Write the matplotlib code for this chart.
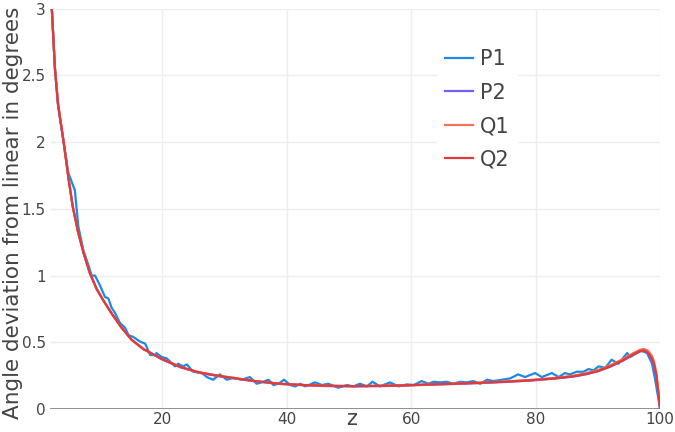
import numpy as np
import matplotlib.pyplot as plt

# courbes lisses (P2, Q1, Q2)
z_lisse = [2.0, 2.3, 2.8, 3.3, 4.2, 5.0, 5.65, 6.5, 7.4, 8.4, 9.5, 10.5, 12, 13.5,
           15.1, 17, 20, 23, 26, 29, 32, 35, 39, 43, 47, 51, 55, 59, 63, 67, 71,
           75, 79, 83, 86, 88, 90, 92, 94, 95.5, 96.8, 97.4, 98.0, 98.6, 99.0,
           99.4, 99.7, 100]
q2 = [3.45, 3.0, 2.55, 2.28, 2.0, 1.72, 1.52, 1.33, 1.17, 1.02, 0.9, 0.82, 0.71, 0.61,
      0.52, 0.45, 0.375, 0.315, 0.275, 0.25, 0.23, 0.21, 0.19, 0.18, 0.175, 0.172,
      0.175, 0.178, 0.185, 0.19, 0.197, 0.205, 0.215, 0.23, 0.245, 0.262, 0.285,
      0.32, 0.365, 0.405, 0.435, 0.44, 0.425, 0.385, 0.34, 0.25, 0.13, 0.0]
q1 = [3.45, 3.0, 2.56, 2.29, 2.0, 1.73, 1.52, 1.33, 1.17, 1.02, 0.9, 0.82, 0.71, 0.61,
      0.52, 0.45, 0.375, 0.315, 0.275, 0.25, 0.23, 0.21, 0.19, 0.18, 0.175, 0.172,
      0.175, 0.178, 0.185, 0.19, 0.198, 0.207, 0.218, 0.233, 0.25, 0.268, 0.292,
      0.328, 0.375, 0.415, 0.445, 0.45, 0.44, 0.405, 0.36, 0.27, 0.14, 0.0]
p2 = [3.45, 3.0, 2.55, 2.28, 2.0, 1.72, 1.52, 1.33, 1.17, 1.02, 0.9, 0.82, 0.71, 0.61,
      0.52, 0.45, 0.372, 0.312, 0.272, 0.247, 0.227, 0.207, 0.188, 0.178, 0.172, 0.17,
      0.172, 0.176, 0.183, 0.188, 0.195, 0.203, 0.213, 0.228, 0.243, 0.26, 0.283,
      0.318, 0.362, 0.402, 0.432, 0.437, 0.42, 0.375, 0.33, 0.24, 0.12, 0.0]

# P1 bruitée
z_p1 = [2.0, 2.3, 2.8, 3.3, 4.2, 4.95, 6.0, 6.55, 7.36, 8.16, 8.7, 9.24, 10.0, 10.84,
        11.37, 11.9, 12.45, 13.25, 14.06, 14.6, 15.4, 16.5, 17.3, 18.1, 18.9, 19.1,
        19.95, 20.75, 22.1, 22.6, 23.4, 24.0, 25.0, 26.4, 27.2, 28.2, 29.3, 30.4,
        31.5, 32.8, 34.1, 35.2, 36.3, 37.1, 37.9, 38.7, 39.6, 40.6, 41.4, 42.2, 43.0,
        44.6, 45.7, 46.7, 48.3, 49.7, 50.7, 51.8, 52.9, 53.8, 55.0, 56.6, 58.0, 59.3,
        60.4, 61.7, 62.8, 63.6, 64.7, 65.7, 66.8, 67.9, 68.9, 70.0, 71.1, 72.2, 73.2,
        74.6, 75.9, 77.2, 78.3, 79.9, 81.0, 82.6, 83.7, 84.7, 85.5, 86.6, 87.7, 88.5,
        89.3, 90.1, 91.2, 92.2, 93.3, 94.7, 95.2, 96.8, 97.9, 98.7, 99.2, 100]
p1 = [3.45, 3.0, 2.55, 2.28, 2.0, 1.77, 1.64, 1.37, 1.19, 1.08, 1.0, 1.0, 0.93, 0.84,
      0.83, 0.76, 0.72, 0.645, 0.61, 0.555, 0.54, 0.505, 0.49, 0.405, 0.405, 0.42,
      0.39, 0.38, 0.32, 0.34, 0.32, 0.335, 0.28, 0.27, 0.24, 0.22, 0.26, 0.22,
      0.235, 0.22, 0.24, 0.19, 0.205, 0.22, 0.18, 0.19, 0.22, 0.18, 0.17, 0.19, 0.17,
      0.2, 0.18, 0.19, 0.16, 0.18, 0.17, 0.19, 0.17, 0.205, 0.17, 0.2, 0.17, 0.185,
      0.18, 0.21, 0.19, 0.205, 0.2, 0.205, 0.19, 0.205, 0.2, 0.21, 0.19, 0.22, 0.21,
      0.22, 0.23, 0.26, 0.24, 0.27, 0.24, 0.27, 0.24, 0.27, 0.26, 0.28, 0.28, 0.3,
      0.29, 0.32, 0.31, 0.37, 0.34, 0.42, 0.39, 0.44, 0.42, 0.34, 0.22, 0.0]

x_ticks = [20, 40, 60, 80, 100]
y_ticks = [0, 0.5, 1, 1.5, 2, 2.5, 3]
y_labels = ["0", "0.5", "1", "1.5", "2", "2.5", "3"]

fig = plt.figure(figsize=(6.75, 4.32), dpi=100)
ax = fig.add_axes([0.074, 0.053, 0.904, 0.927])

ax.plot(z_p1, p1, color='#1E88E5', lw=1.6, label="P1")
ax.plot(z_lisse, p2, color='#7460EE', lw=1.6, label="P2")
ax.plot(z_lisse, q1, color='#F0735A', lw=1.6, label="Q1")
ax.plot(z_lisse, q2, color='#E03B3B', lw=1.6, label="Q2")

ax.set_xlim(2.0, 100)
ax.set_ylim(0, 3)
ax.set_xticks(x_ticks)
ax.set_yticks(y_ticks)
ax.set_yticklabels(y_labels)
ax.grid(True, color='#eeeeee', lw=1)
ax.set_axisbelow(True)
ax.axhline(0, color='#888888', lw=1.3, zorder=1.5)
for s in ax.spines.values():
    s.set_visible(False)
ax.tick_params(length=0, labelsize=11, labelcolor='#444444', pad=3)
ax.tick_params(axis='x', pad=2)

# titre de l'axe y placé à la main
fig.text(13 / 675, 1 - 213 / 432, "Angle deviation from linear in degrees",
         fontsize=15.5, color='#444444', rotation=90, ha='center', va='center')
fig.text(352 / 675, 1 - 419 / 432, "z", fontsize=15, color='#444444',
         ha='center', va='center')

leg = ax.legend(loc='upper left', bbox_to_anchor=(0.634, 0.919), fontsize=15,
                frameon=True, framealpha=1, edgecolor='white', fancybox=False,
                handlelength=1.35, handletextpad=0.3, labelspacing=0.64,
                borderpad=0.4, borderaxespad=0)
for t in leg.get_texts():
    t.set_color('#444444')

fig.savefig("out.png", dpi=100)
